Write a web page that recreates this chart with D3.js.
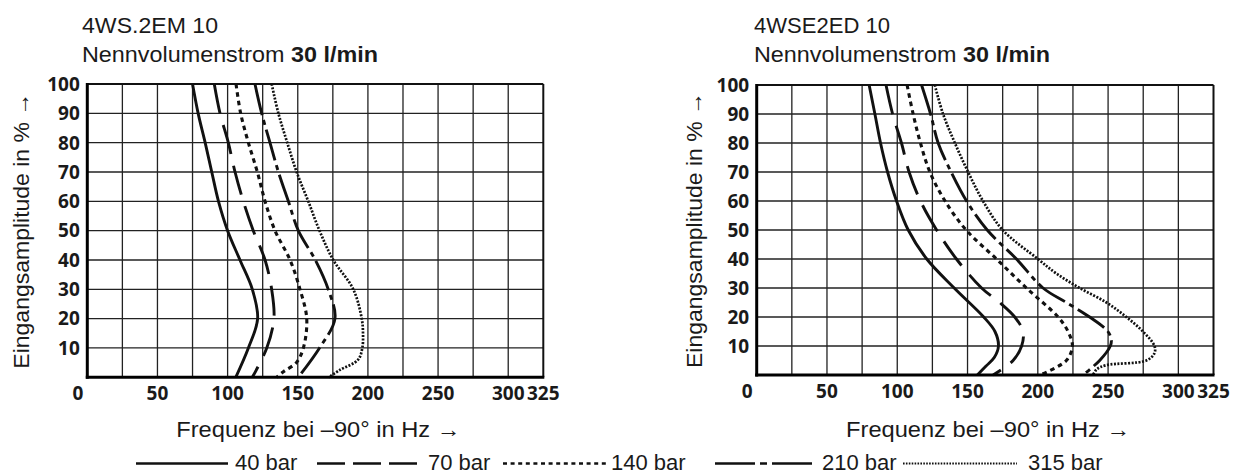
<!DOCTYPE html>
<html><head><meta charset="utf-8">
<script src="https://cdn.jsdelivr.net/npm/d3@7"></script>
<style>body{margin:0;background:#fff}svg{display:block}</style>
</head><body><svg id="c" width="1242" height="475"></svg>
<script>
// ---- data ----
const seriesNames = ["40 bar", "70 bar", "140 bar", "210 bar", "315 bar"];
const xTickLabels = [50, 100, 150, 200, 250, 300, 325];
const yTickLabels = [10, 20, 30, 40, 50, 60, 70, 80, 90, 100];
const chartTitles = ["4WS.2EM 10", "4WSE2ED 10"];
const subTitle = "Nennvolumenstrom ";
const subTitleBold = "30 l/min";
const xAxisTitle = "Frequenz bei \u201390\u00B0 in Hz \u2192";
const yAxisTitle = "Eingangsamplitude in % \u2192";

// [amplitude %, frequency Hz]
const left40  = [[100,75],[90,79],[80,84],[70,88.7],[60,93.5],[50,100],[40,108.8],[30,117.6],[20,121.4],[10,114.8],[0,105.8]];
const left70  = [[100,90.5],[90,94.6],[80,100.5],[70,105.3],[60,111.2],[50,118.3],[40,126.7],[30,131.4],[20,133],[10,127.9],[0,117.6]];
const left140 = [[100,106],[90,109.3],[80,114.8],[70,121.2],[60,126.7],[50,133.8],[40,144.5],[30,151.6],[20,156.4],[10,154],[5,149],[2,140],[0,135]];
const left210 = [[100,119.5],[90,124.3],[80,130.2],[70,136.2],[60,143.3],[50,150.4],[40,162.5],[30,171.7],[20,176.5],[10,165.5],[0,150.4]];
const left315 = [[100,131.4],[90,136.2],[80,142.5],[70,149.2],[60,157.5],[50,165.5],[40,175.3],[30,189.6],[20,195.6],[15,196.5],[10,196],[6,193],[2.5,180],[0,172]];

const right40  = [[100,80],[90,84.1],[80,88.1],[70,93.1],[60,99.5],[50,107.8],[40,121],[30,140.5],[20,161.5],[15,169.5],[10,172],[6,169],[3,163],[0,157]];
const right70  = [[100,92],[90,96.7],[80,103],[70,108.4],[60,116.5],[50,128],[40,142.1],[30,160],[25,172.9],[20,183.6],[15,189.5],[10,188.5],[5,182.4],[0,168.2]];
const right140 = [[100,107],[90,111.3],[80,116.5],[70,123.2],[60,134],[50,149],[40,170.6],[30,191.9],[20,214.4],[15,221.5],[10,224.6],[5,220.3],[0,201.5]];
const right210 = [[100,117.3],[90,123.7],[80,129.1],[70,138.3],[60,149.3],[50,164],[40,184.8],[30,203.7],[25,220.3],[20,236.9],[15,249.9],[12,252.3],[10,251.6],[5,244],[0,232.1]];
const right315 = [[100,126.7],[90,132.6],[80,141],[70,150.4],[60,161],[50,175],[40,200.1],[35,213.2],[30,229.8],[25,248.8],[20,263],[15,274.8],[10,283],[7.5,283],[5,277.2],[3.4,248.8],[2,242],[0,239.2]];

// ---- styles ----
const lineStyles = [
  {w:2.9, dash:null,        legendDash:null,       lw:2.4},
  {w:2.9, dash:"30,12",     legendDash:"28,8",     lw:2.4},
  {w:3.1, dash:"4.5,4",     legendDash:"4,3.6",    lw:2.4},
  {w:2.9, dash:"32,5,5,5",  legendDash:"40,5,7,5", lw:2.4},
  {w:2.7, dash:"2,1.5",     legendDash:"1.6,1.3",  lw:2}
];
const legendLayout = [
  {x1:136, x2:228, tx:235},
  {x1:317, x2:418, tx:428},
  {x1:503, x2:607, tx:611},
  {x1:715, x2:812, tx:822},
  {x1:903, x2:1017, tx:1028}
];

const charts = [
  {x0:87.3, x1:543.3, yTop:84, yBot:377.3, titleX:82, yTitleX:29, series:[left40,left70,left140,left210,left315]},
  {x0:756.7, x1:1213.5, yTop:85, yBot:375, titleX:754, yTitleX:702, series:[right40,right70,right140,right210,right315]}
];

const svg = d3.select("#c");
const textFont = "'Liberation Sans', Arial, Helvetica, sans-serif";
const tickFont = "'Open Sans', 'Liberation Sans', sans-serif";
const ink = "#1a1a1a";

charts.forEach((c, ci) => {
  const x = d3.scaleLinear().domain([0, 325]).range([c.x0, c.x1]);
  const y = d3.scaleLinear().domain([0, 100]).range([c.yBot, c.yTop]);
  const g = svg.append("g");

  // grid
  g.selectAll("line.vg").data(d3.range(25, 325, 25)).join("line")
    .attr("x1", d => x(d)).attr("x2", d => x(d))
    .attr("y1", y(0)).attr("y2", y(100))
    .attr("stroke", "#222").attr("stroke-width", 1.3);
  g.selectAll("line.hg").data(d3.range(10, 100, 10)).join("line")
    .attr("y1", d => y(d)).attr("y2", d => y(d))
    .attr("x1", x(0)).attr("x2", x(325))
    .attr("stroke", "#222").attr("stroke-width", 1.3);
  // top and right border
  g.append("line").attr("x1", x(0)).attr("x2", x(325)).attr("y1", y(100)).attr("y2", y(100))
    .attr("stroke", "#111").attr("stroke-width", 1.8);
  g.append("line").attr("x1", x(325)).attr("x2", x(325)).attr("y1", y(100)).attr("y2", y(0))
    .attr("stroke", "#111").attr("stroke-width", 2);

  // curves
  const line = d3.line().x(d => x(d[1])).y(d => y(d[0])).curve(d3.curveCatmullRom.alpha(0.5));
  c.series.forEach((s, si) => {
    const st = lineStyles[si];
    g.append("path").attr("d", line(s)).attr("fill", "none")
      .attr("stroke", "#111").attr("stroke-width", st.w)
      .attr("stroke-dasharray", st.dash).attr("stroke-linecap", "butt");
  });

  // main axes (thick)
  g.append("line").attr("x1", x(0)).attr("x2", x(0)).attr("y1", y(100) - 1).attr("y2", y(0) + 1.5)
    .attr("stroke", "#000").attr("stroke-width", 3);
  g.append("line").attr("x1", x(0) - 1.5).attr("x2", x(325) + 1).attr("y1", y(0)).attr("y2", y(0))
    .attr("stroke", "#000").attr("stroke-width", 3);

  // tick labels
  g.selectAll("text.yt").data(yTickLabels).join("text")
    .attr("x", x(0) - 7.5).attr("y", d => y(d)).attr("dy", "0.36em")
    .attr("text-anchor", "end").attr("font-family", tickFont).attr("font-weight", 700)
    .attr("font-size", 19).attr("fill", ink).text(d => d);
  g.selectAll("text.xt").data(xTickLabels).join("text")
    .attr("x", d => x(d)).attr("y", y(0) + 16).attr("dy", "0.36em")
    .attr("text-anchor", "middle").attr("font-family", tickFont).attr("font-weight", 700)
    .attr("font-size", 19).attr("fill", ink).text(d => d);
  g.append("text").attr("x", x(0) - 4).attr("y", y(0) + 16).attr("dy", "0.36em")
    .attr("text-anchor", "end").attr("font-family", tickFont).attr("font-weight", 700)
    .attr("font-size", 19).attr("fill", ink).text("0");

  // titles
  g.append("text").attr("x", c.titleX).attr("y", 33.3)
    .attr("font-family", textFont).attr("font-size", 22.5).attr("fill", ink)
    .attr("textLength", 136).attr("lengthAdjust", "spacingAndGlyphs")
    .text(chartTitles[ci]);
  const t2 = g.append("text").attr("x", c.titleX).attr("y", 61.7)
    .attr("font-family", textFont).attr("font-size", 22.5).attr("fill", ink)
    .attr("textLength", 296).attr("lengthAdjust", "spacingAndGlyphs");
  t2.append("tspan").text(subTitle);
  t2.append("tspan").attr("font-weight", 700).text(subTitleBold);

  // axis titles
  g.append("text").attr("x", (c.x0 + c.x1) / 2 + 3).attr("y", 436.7)
    .attr("text-anchor", "middle").attr("font-family", textFont).attr("font-size", 22.5).attr("fill", ink)
    .attr("textLength", 284).attr("lengthAdjust", "spacingAndGlyphs")
    .text(xAxisTitle);
  g.append("text").attr("transform", `translate(${c.yTitleX},${(c.yTop + c.yBot) / 2}) rotate(-90)`)
    .attr("text-anchor", "middle").attr("font-family", textFont).attr("font-size", 22.5).attr("fill", ink)
    .attr("textLength", 276).attr("lengthAdjust", "spacingAndGlyphs")
    .text(yAxisTitle);
});

// legend
const lg = svg.append("g");
seriesNames.forEach((name, i) => {
  const L = legendLayout[i], st = lineStyles[i];
  lg.append("line").attr("x1", L.x1).attr("x2", L.x2).attr("y1", 463.5).attr("y2", 463.5)
    .attr("stroke", "#111").attr("stroke-width", st.lw)
    .attr("stroke-dasharray", st.legendDash);
  lg.append("text").attr("x", L.tx).attr("y", 470)
    .attr("font-family", textFont).attr("font-size", 22).attr("fill", ink).text(name);
});
</script>
</body></html>
